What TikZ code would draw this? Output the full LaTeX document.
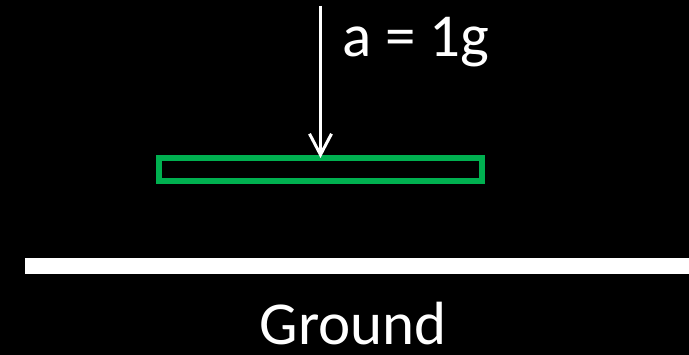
\documentclass[tikz,border=0pt]{standalone}
\usepackage{fontspec}
\setmainfont{Carlito}
\usepackage{xcolor}
\usetikzlibrary{arrows.meta, positioning}
\definecolor{plategreen}{HTML}{00B050}

\begin{document}
\begin{tikzpicture}[x=1pt, y=-1pt,
  plate/.style={rectangle, draw=plategreen, line width=5.5pt,
              minimum width=323pt, minimum height=23pt,
              inner sep=0pt, outer sep=0pt},
  groundbar/.style={rectangle, fill=white, minimum width=664pt,
              minimum height=16pt, inner sep=0pt},
  lbl/.style={text=white, font=\fontsize{61}{72}\selectfont, inner sep=0pt},
  arr/.style={-{Straight Barb[length=21pt, width=22pt]}, white, line width=3pt}
]

\fill[black] (0,0) rectangle (689,355);
\useasboundingbox (0,0) rectangle (689,355);

\node[plate] (block) at (320.5,169.5) {};
\node[groundbar] (bar) at (357,266) {};

\coordinate (start) at (320.5,6);
\draw[arr] (start) -- (block.north);

\node[lbl, anchor=base west] (acc) at (342,57) {a = 1g};
\node[lbl, anchor=base, text depth=0pt] (ground) at (353.5,345) {Ground};

\end{tikzpicture}
\end{document}
